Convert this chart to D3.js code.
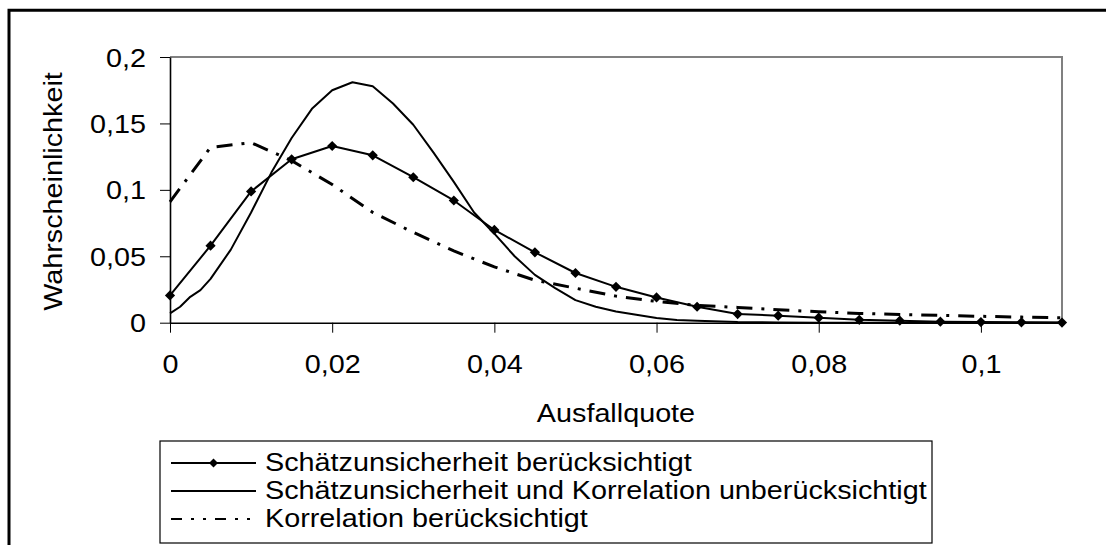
<!DOCTYPE html>
<html>
<head>
<meta charset="utf-8">
<script src="https://cdn.jsdelivr.net/npm/d3@7"></script>
<style>
  body { margin: 0; background: #fff; }
  text { font-family: "Liberation Sans", Arial, sans-serif; fill: #000; }
</style>
</head>
<body>
<div id="draw_here"></div>

<script type="text/javascript">
    // Data
    seriesNames = ["Schätzunsicherheit berücksichtigt",
                   "Schätzunsicherheit und Korrelation unberücksichtigt",
                   "Korrelation berücksichtigt"]

    // markers, step 0.005
    x_mark = [0, 0.005, 0.01, 0.015, 0.02, 0.025, 0.03, 0.035, 0.04, 0.045, 0.05, 0.055,
              0.06, 0.065, 0.07, 0.075, 0.08, 0.085, 0.09, 0.095, 0.1, 0.105, 0.11]
    y_mark = [0.0205, 0.058, 0.0988, 0.123, 0.133, 0.126, 0.1095, 0.092, 0.0698, 0.053, 0.0374, 0.027,
              0.019, 0.012, 0.0065, 0.0053, 0.0038, 0.0022, 0.0015, 0.0008, 0.0005, 0.0003, 0.0001]

    // solid, finer steps
    x_solid = [0, 0.00125, 0.0025, 0.00375, 0.005, 0.0075, 0.01, 0.0125, 0.015, 0.0175, 0.02, 0.0225,
               0.025, 0.0275, 0.03, 0.0325, 0.035, 0.0375, 0.04, 0.0425, 0.045, 0.0475, 0.05, 0.0525,
               0.055, 0.0575, 0.06, 0.0625, 0.065, 0.07, 0.075, 0.08, 0.09, 0.1, 0.11]
    y_solid = [0.007, 0.012, 0.0195, 0.0245, 0.033, 0.055, 0.083, 0.113, 0.139, 0.161, 0.175, 0.181,
               0.178, 0.165, 0.149, 0.128, 0.106, 0.083, 0.067, 0.05, 0.036, 0.026, 0.017, 0.012,
               0.0085, 0.006, 0.0035, 0.002, 0.0015, 0.0005, 0.0002, 0, 0, 0, 0]

    // dash-dot, step 0.005
    x_dash = x_mark
    y_dash = [0.091, 0.132, 0.1355, 0.122, 0.104, 0.083, 0.068, 0.054, 0.042, 0.032, 0.026, 0.02,
              0.016, 0.013, 0.0115, 0.0098, 0.0082, 0.007, 0.0062, 0.0055, 0.0048, 0.0042, 0.0037]

    xTicks = [0, 0.02, 0.04, 0.06, 0.08, 0.1]
    yTicks = [0, 0.05, 0.1, 0.15, 0.2]
    xlim = [0, 0.11]
    ylim = [0, 0.2]

    // Setup
    canvas = ({width: 1106, height: 545})
    plot = ({left: 170, right: 1062, top: 57, bottom: 322.7})
    fontSize = 25
    widen = 1.15

    fmt = d => String(d).replace(".", ",")

    x = d3.scaleLinear().domain(xlim).range([plot.left, plot.right])
    y = d3.scaleLinear().domain(ylim).range([plot.bottom, plot.top])

    var svg = d3.select("div#draw_here").append("svg")
        .attr("width", canvas.width)
        .attr("height", canvas.height)
        .attr("viewBox", [0, 0, canvas.width, canvas.height]);

    // the picture's text is a bit wider than Arial
    function stretch(sel) {
        sel.each(function() {
            var w = this.getComputedTextLength()
            d3.select(this).attr("textLength", w * widen).attr("lengthAdjust", "spacingAndGlyphs")
        })
    }

    // outer frame (open at right and bottom)
    svg.append("path")
        .attr("fill", "none")
        .attr("stroke", "#000")
        .attr("stroke-width", 3)
        .attr("d", `M9,${canvas.height + 5}V10.3H${canvas.width + 5}`)

    // plot area border (grey top and right)
    svg.append("path")
        .attr("fill", "none")
        .attr("stroke", "#808080")
        .attr("stroke-width", 2)
        .attr("d", `M${plot.left},${plot.top}H${plot.right}V${plot.bottom}`)

    // axes
    xAxis = g => g
        .attr("transform", `translate(0,${plot.bottom})`)
        .call(d3.axisBottom(x).tickValues(xTicks).tickFormat(fmt).tickSize(10).tickSizeOuter(0).tickPadding(23))

    yAxis = g => g
        .attr("transform", `translate(${plot.left},0)`)
        .call(d3.axisLeft(y).tickValues(yTicks).tickFormat(fmt).tickSize(10).tickSizeOuter(0).tickPadding(14))

    gx = svg.append("g").call(xAxis)
    gy = svg.append("g").call(yAxis)
    for (const g of [gx, gy]) {
        g.attr("font-size", null).attr("font-family", null)
        g.select(".domain").attr("stroke", "#000").attr("stroke-width", 1.6)
        g.selectAll(".tick line").attr("stroke", "#000").attr("stroke-width", 1)
        g.selectAll(".tick text").style("font-size", fontSize + "px").call(stretch)
    }
    gy.selectAll(".tick text").attr("dy", "0.36em")

    // axis titles
    svg.append("text")
        .attr("x", (plot.left + plot.right) / 2)
        .attr("y", 421.5)
        .attr("text-anchor", "middle")
        .style("font-size", fontSize + "px")
        .text("Ausfallquote")
        .call(stretch)

    svg.append("text")
        .attr("transform", "translate(62,191.5) rotate(-90)")
        .attr("text-anchor", "middle")
        .style("font-size", fontSize + "px")
        .text("Wahrscheinlichkeit")
        .call(stretch)

    // lines
    line = d3.line()
        .x(d => x(d[0]))
        .y(d => y(d[1]))

    dashPattern = "16,9,3,9"

    svg.append("path")
        .attr("id", "solid")
        .attr("fill", "none")
        .attr("stroke", "#000")
        .attr("stroke-width", 2)
        .attr("stroke-linejoin", "round")
        .attr("d", line(d3.zip(x_solid, y_solid)));

    svg.append("path")
        .attr("id", "dashdot")
        .attr("fill", "none")
        .attr("stroke", "#000")
        .attr("stroke-width", 3)
        .attr("stroke-dasharray", dashPattern)
        .attr("d", line(d3.zip(x_dash, y_dash)));

    svg.append("path")
        .attr("id", "marked")
        .attr("fill", "none")
        .attr("stroke", "#000")
        .attr("stroke-width", 2)
        .attr("stroke-linejoin", "round")
        .attr("d", line(d3.zip(x_mark, y_mark)));

    diamond = d3.symbol(d3.symbolSquare, 52)

    svg.append("g")
        .selectAll("path")
        .data(d3.zip(x_mark, y_mark))
        .join("path")
        .attr("d", diamond)
        .attr("fill", "#000")
        .attr("transform", d => `translate(${x(d[0])},${y(d[1])}) rotate(45)`)

    // legend
    legend = ({x: 160, y: 441, w: 772, h: 102, rows: [463, 491, 519], x0: 171, x1: 256, tx: 265})

    svg.append("rect")
        .attr("x", legend.x).attr("y", legend.y)
        .attr("width", legend.w).attr("height", legend.h)
        .attr("fill", "#fff")
        .attr("stroke", "#000")
        .attr("stroke-width", 1.2)

    seriesNames.forEach((name, i) => {
        var ry = legend.rows[i]
        var l = svg.append("line")
            .attr("x1", legend.x0).attr("x2", legend.x1)
            .attr("y1", ry).attr("y2", ry)
            .attr("stroke", "#000")
            .attr("stroke-width", 2)
        if (i == 2) l.attr("stroke-dasharray", "11,9,3,9,3,9")
        if (i == 0) {
            svg.append("path")
                .attr("d", d3.symbol(d3.symbolSquare, 40))
                .attr("fill", "#000")
                .attr("transform", `translate(${(legend.x0 + legend.x1) / 2},${ry}) rotate(45)`)
        }
        svg.append("text")
            .attr("x", legend.tx)
            .attr("y", ry + 7.5)
            .style("font-size", fontSize + "px")
            .text(name)
            .call(stretch)
    })
</script>
</body>
</html>
